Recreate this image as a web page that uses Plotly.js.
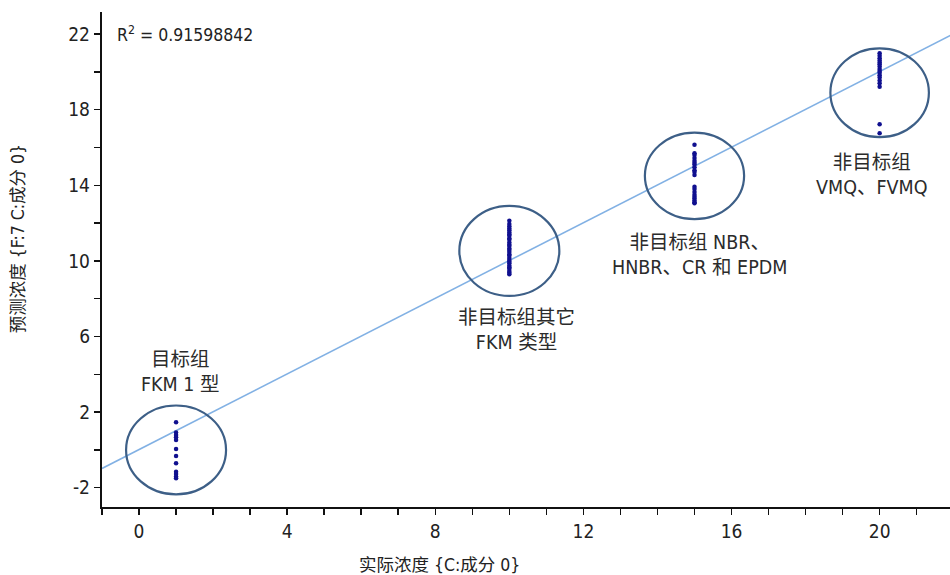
<!DOCTYPE html>
<html>
<head>
<meta charset="utf-8">
<script src="https://cdn.plot.ly/plotly-3.0.1.min.js"></script>
<style>
  html, body { margin: 0; padding: 0; background: #ffffff; }
  #chart { width: 950px; height: 575px; }
</style>
</head>
<body>
<div id="chart"></div>
<script>
// Measured vs. predicted concentration for each rubber group
const actualFKM1 = 1;
const predictedFKM1 = [1.47, 0.92, 0.79, 0.67, 0.53, 0.05, -0.32, -0.70, -1.15, -1.27, -1.41, -1.50];

const actualOtherFKM = 10;
const predictedOtherFKM = [12.12, 11.95, 11.83, 11.71, 11.62, 11.50, 11.41, 11.33, 11.20, 11.12,
  10.98, 10.86, 10.79, 10.66, 10.58, 10.47, 10.35, 10.28, 10.16, 10.05,
  9.96, 9.87, 9.75, 9.66, 9.58, 9.47, 9.38, 9.29];

const actualNBR = 15;
const predictedNBR = [16.14, 15.70, 15.60, 15.45, 15.30, 15.20, 15.10, 14.95, 14.80, 14.70, 14.55,
  13.93, 13.80, 13.65, 13.50, 13.40, 13.30, 13.20, 13.10, 13.05];

const actualVMQ = 20;
const predictedVMQ = [20.99, 20.85, 20.72, 20.60, 20.50, 20.40, 20.28, 20.15, 20.05, 19.95,
  19.82, 19.70, 19.55, 19.40, 19.22, 17.23, 16.75];

// Regression line
const fitSlope = 1.0;
const fitIntercept = 0.02;
const fitRange = [-1, 22];
const rSquared = '0.91598842';

// Group outlines (centre and half-widths in data units)
const groupCenterX = [1, 10, 15, 20];
const groupCenterY = [0, 10.53, 14.5, 18.9];
const groupRadiusX = [1.35, 1.35, 1.34, 1.33];
const groupRadiusY = [2.35, 2.38, 2.29, 2.35];

// Group labels
const groupLabels = ['目标组<br>FKM 1 型', '非目标组其它<br>FKM 类型', '非目标组 NBR、<br>HNBR、CR 和 EPDM', '非目标组<br>VMQ、FVMQ'];
const labelX = [1.11, 10.2, 15.14, 19.78];
const labelY = [4.13, 6.35, 10.32, 14.55];

const xTickVals = [0, 4, 8, 12, 16, 20];
const yTickVals = [-2, 2, 6, 10, 14, 18, 22];

const xTitle = '实际浓度 {C:成分 0}';
const yTitle = '预测浓度 {F:7 C:成分 0}';

const FONT = '"Liberation Sans Narrow", "DejaVu Sans Condensed", Roboto, "Noto Sans CJK SC", sans-serif';

function scatterGroup(xv, ys) {
  return {
    type: 'scatter', mode: 'markers',
    x: ys.map(() => xv), y: ys,
    marker: { color: '#10108f', size: 4.5 },
    hoverinfo: 'x+y', showlegend: false
  };
}

const fitTrace = {
  type: 'scatter', mode: 'lines',
  x: fitRange,
  y: fitRange.map(v => fitSlope * v + fitIntercept),
  line: { color: '#82b1e4', width: 1.6 },
  showlegend: false, hoverinfo: 'skip'
};

const data = [
  fitTrace,
  scatterGroup(actualFKM1, predictedFKM1),
  scatterGroup(actualOtherFKM, predictedOtherFKM),
  scatterGroup(actualNBR, predictedNBR),
  scatterGroup(actualVMQ, predictedVMQ)
];

const shapes = groupCenterX.map((cx, i) => ({
  type: 'circle', xref: 'x', yref: 'y',
  x0: cx - groupRadiusX[i], x1: cx + groupRadiusX[i],
  y0: groupCenterY[i] - groupRadiusY[i], y1: groupCenterY[i] + groupRadiusY[i],
  line: { color: '#3d5f87', width: 2.2 },
  fillcolor: 'rgba(0,0,0,0)', layer: 'above'
}));

const annotations = groupLabels.map((t, i) => ({
  x: labelX[i], y: labelY[i], xref: 'x', yref: 'y',
  text: t, showarrow: false, align: 'center',
  font: { family: FONT, size: 19.5, color: '#2b2b2b' }
}));

// R² readout in the top-left corner
annotations.push({
  xref: 'paper', yref: 'y', x: 0.015, y: 22, xanchor: 'left', yanchor: 'middle',
  text: 'R<sup>2</sup> = ' + rSquared, showarrow: false,
  font: { family: FONT, size: 17.5, color: '#222' }
});

// Axis titles
annotations.push({
  xref: 'paper', yref: 'paper', x: 0.398, y: -0.118, xanchor: 'center', yanchor: 'middle',
  text: xTitle, showarrow: false,
  font: { family: FONT, size: 17.5, color: '#222' }
});
annotations.push({
  xref: 'paper', yref: 'paper', x: -0.099, y: 0.541, xanchor: 'center', yanchor: 'middle',
  text: yTitle, showarrow: false, textangle: -90,
  font: { family: FONT, size: 17.5, color: '#222' }
});

const layout = {
  width: 950, height: 575,
  margin: { l: 102, r: 0, t: 12, b: 68 },
  paper_bgcolor: '#ffffff', plot_bgcolor: '#ffffff',
  font: { family: FONT, color: '#222' },
  showlegend: false,
  xaxis: {
    range: [-1.0, 21.9],
    tickvals: xTickVals, ticktext: xTickVals.map(String),
    ticks: 'outside', ticklen: 6, tickwidth: 1.5, tickcolor: '#111',
    minor: { dtick: 1, ticks: 'outside', ticklen: 6, tickwidth: 1.5, tickcolor: '#111', showgrid: false },
    showgrid: false, zeroline: false,
    showline: true, linecolor: '#111', linewidth: 2.2,
    tickfont: { family: FONT, size: 19, color: '#222' }
  },
  yaxis: {
    range: [-3.02, 23.17],
    tickvals: yTickVals, ticktext: yTickVals.map(String),
    ticks: 'outside', ticklen: 6, tickwidth: 1.5, tickcolor: '#111',
    minor: { dtick: 2, tick0: 0, ticks: 'outside', ticklen: 6, tickwidth: 1.5, tickcolor: '#111', showgrid: false },
    showgrid: false, zeroline: false,
    showline: true, linecolor: '#111', linewidth: 2.2,
    tickfont: { family: FONT, size: 19, color: '#222' }
  },
  shapes: shapes,
  annotations: annotations
};

Plotly.newPlot('chart', data, layout, { displayModeBar: false, staticPlot: true });
</script>
</body>
</html>
